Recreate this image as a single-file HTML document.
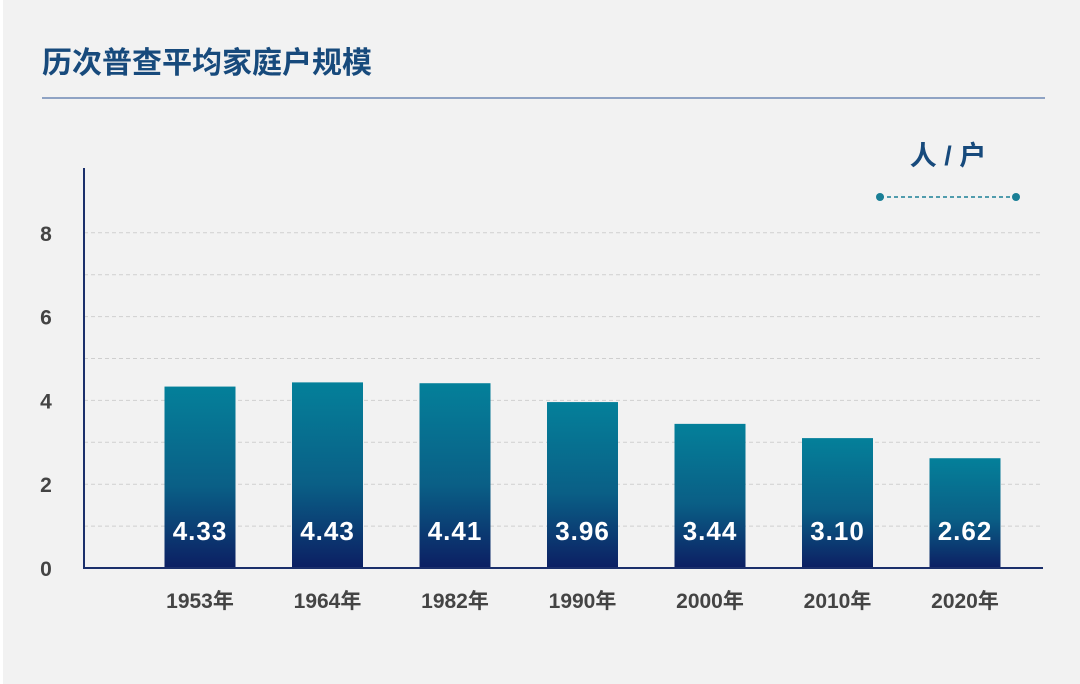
<!DOCTYPE html>
<html><head><meta charset="utf-8"><style>
body{margin:0;width:1080px;height:684px;background:#f2f2f2;overflow:hidden;font-family:"Liberation Sans","Noto Sans CJK SC",sans-serif}
</style></head><body>
<svg id="c" width="1080" height="684" style="position:absolute;left:0;top:0">
<defs><linearGradient id="g" x1="0" y1="0" x2="0" y2="1"><stop offset="0" stop-color="#04809a"/><stop offset="0.55" stop-color="#0a5f86"/><stop offset="1" stop-color="#0c1f63"/></linearGradient></defs>
<rect x="0" y="0" width="3" height="684" fill="#fff"/>
<text x="42" y="73" font-size="30" font-weight="bold" fill="#174a7c" font-family="'Liberation Sans','Noto Sans CJK SC',sans-serif">历次普查平均家庭户规模</text>
<line x1="42" y1="98" x2="1045" y2="98" stroke="#8fa3c4" stroke-width="2"/>
<text x="948" y="165" font-size="27" font-weight="bold" fill="#174a7c" text-anchor="middle" font-family="'Liberation Sans','Noto Sans CJK SC',sans-serif">人 / 户</text>
<line x1="880" y1="197" x2="1016" y2="197" stroke="#1a7f96" stroke-width="1.5" stroke-dasharray="4,3"/>
<circle cx="880" cy="197" r="4" fill="#1a7f96"/>
<circle cx="1016" cy="197" r="4" fill="#1a7f96"/>
<g id="grid"></g><g id="bars"></g><g id="axes"></g>
</svg>
<script>
const categories=["1953年","1964年","1982年","1990年","2000年","2010年","2020年"];
const values=[4.33,4.43,4.41,3.96,3.44,3.10,2.62];
const valueLabels=["4.33","4.43","4.41","3.96","3.44","3.10","2.62"];
const yTicks=[0,2,4,6,8];
const gridLines=[1,2,3,4,5,6,7,8];
const NS="http://www.w3.org/2000/svg";
const y0=568,pxPerUnit=41.9,x0=84,x1=1043,firstC=200,step=127.5,bw=71;
const y=v=>y0-v*pxPerUnit;
const x=i=>firstC+i*step;
function mk(t,a,p){const e=document.createElementNS(NS,t);for(const k in a)e.setAttribute(k,a[k]);p.appendChild(e);return e;}
const grid=document.getElementById('grid'),bars=document.getElementById('bars'),axes=document.getElementById('axes');
gridLines.forEach(v=>{const l=mk('line',{x1:x0,x2:x1,y1:y(v),y2:y(v),stroke:'#cfcfcf','stroke-width':1,'stroke-dasharray':'4,3'},grid);

});
yTicks.forEach(v=>{const t=mk('text',{x:46,y:y(v)+8,'font-size':21,'font-weight':'bold',fill:'#444','text-anchor':'middle'},axes);t.textContent=v;

});
values.forEach((v,i)=>{const r=mk('rect',{x:x(i)-bw/2,y:y(v),width:bw,height:y0-y(v),fill:'url(#g)'},bars);


const t=mk('text',{x:x(i),y:y0-28,'font-size':26,'font-weight':'bold',fill:'#fff','text-anchor':'middle','letter-spacing':'1'},bars);t.textContent=valueLabels[i];


const c=mk('text',{x:x(i),y:608,'font-size':21,'font-weight':'bold',fill:'#444','text-anchor':'middle'},axes);c.textContent=categories[i];

});
const ya=mk('line',{x1:x0,x2:x0,y1:168,y2:y0+1,stroke:'#1b2f6b','stroke-width':2},axes);


const xa=mk('line',{x1:x0,x2:x1,y1:y0,y2:y0,stroke:'#1b2f6b','stroke-width':2},axes);


</script>
</body></html>
